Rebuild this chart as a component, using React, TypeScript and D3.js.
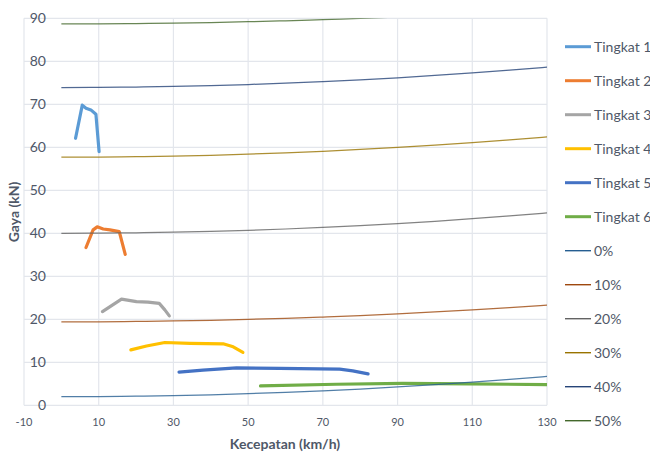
import React from 'react';
import * as d3 from 'd3';

// Speed samples (km/h) for the grade resistance curves
const speedSteps = [0, 10, 20, 30, 40, 50, 60, 70, 80, 90, 100, 110, 120, 130];

// Total resistance (kN) per road grade
const grade0 = [2.0, 2.03, 2.11, 2.25, 2.45, 2.7, 3.0, 3.37, 3.79, 4.27, 4.8, 5.39, 6.03, 6.73];
const grade10 = [19.4, 19.42, 19.49, 19.61, 19.77, 19.98, 20.23, 20.53, 20.87, 21.26, 21.7, 22.18, 22.71, 23.29];
const grade20 = [40.0, 40.03, 40.11, 40.25, 40.45, 40.7, 41.0, 41.37, 41.79, 42.27, 42.8, 43.39, 44.03, 44.73];
const grade30 = [57.7, 57.73, 57.81, 57.95, 58.15, 58.4, 58.7, 59.07, 59.49, 59.97, 60.5, 61.09, 61.73, 62.43];
const grade40 = [73.9, 73.93, 74.01, 74.15, 74.35, 74.6, 74.9, 75.27, 75.69, 76.17, 76.7, 77.29, 77.93, 78.63];
const grade50 = [88.7, 88.72, 88.78, 88.88, 89.02, 89.2, 89.43, 89.7, 89.98, 90.3, 90.65, 91.05, 91.48, 91.95];

const gradeLabels = ['0%', '10%', '20%', '30%', '40%', '50%'];
const gradeSeries = [grade0, grade10, grade20, grade30, grade40, grade50];
const gradeColors = ['#255E91', '#9E480E', '#636363', '#997300', '#264478', '#43682B'];

// Tractive force per gear: [speed km/h, force kN]
const gear1: [number, number][] = [[3.8, 62.1], [5.6, 69.8], [6.6, 69.1], [7.9, 68.7], [9.25, 67.7], [10.1, 59.0]];
const gear2: [number, number][] = [[6.6, 36.7], [8.5, 40.8], [9.6, 41.5], [11.2, 41.0], [13.0, 40.8], [15.5, 40.4], [17.1, 35.1]];
const gear3: [number, number][] = [[11.0, 21.8], [16.1, 24.7], [20.1, 24.1], [23.2, 24.0], [26.2, 23.7], [27.7, 22.2], [28.9, 20.8]];
const gear4: [number, number][] = [[18.6, 12.9], [22.8, 13.8], [27.7, 14.6], [34.4, 14.4], [43.3, 14.3], [46.0, 13.6], [48.6, 12.3]];
const gear5: [number, number][] = [[31.5, 7.7], [37.9, 8.2], [46.9, 8.7], [58.4, 8.6], [74.5, 8.4], [78.0, 8.0], [82.1, 7.3]];
const gear6: [number, number][] = [[53.3, 4.5], [73.6, 4.9], [91.4, 5.1], [109.3, 5.0], [130.0, 4.8]];

const gearLabels = ['Tingkat 1', 'Tingkat 2', 'Tingkat 3', 'Tingkat 4', 'Tingkat 5', 'Tingkat 6'];
const gearSeries = [gear1, gear2, gear3, gear4, gear5, gear6];
const gearColors = ['#5B9BD5', '#ED7D31', '#A5A5A5', '#FFC000', '#4472C4', '#70AD47'];

const xTicks = [-10, 10, 30, 50, 70, 90, 110, 130];
const yTicks = [0, 10, 20, 30, 40, 50, 60, 70, 80, 90];

const W = 650;
const H = 453;
const FONT = 'Lato, "Noto Sans", sans-serif';
const TEXT = '#4f5868';

export default function App() {
  const x = d3.scaleLinear().domain([-10, 130]).range([24, 547]);
  const y = d3.scaleLinear().domain([0, 90]).range([405.3, 18.3]);

  const gearLine = d3
    .line<[number, number]>()
    .x((d) => x(d[0]))
    .y((d) => y(d[1]));

  const gradeLine = d3
    .line<number>()
    .x((_, i) => x(speedSteps[i]))
    .y((d) => y(d))
    .curve(d3.curveMonotoneX);

  const [x0, x1] = x.range();
  const [y0, y1] = y.range();

  const legendItems = [
    ...gearLabels.map((l, i) => ({ label: l, color: gearColors[i], w: 3 })),
    ...gradeLabels.map((l, i) => ({ label: l, color: gradeColors[i], w: 1.4 })),
  ];

  return (
    <svg
      width={W}
      height={H}
      style={{ position: 'absolute', left: 0, top: 0, background: '#fff' }}
      fontFamily={FONT}
    >
      <defs>
        <clipPath id="plotClip">
          <rect x={x0} y={y1} width={x1 - x0} height={y0 - y1} />
        </clipPath>
      </defs>
      <rect x={0} y={0} width={W} height={H} fill="#fff" />

      {/* grid */}
      {yTicks.map((t) => (
        <line key={'gy' + t} x1={x0} x2={x1} y1={y(t)} y2={y(t)} stroke="#e3e6ec" strokeWidth={1.2} />
      ))}
      {xTicks.map((t) => (
        <line key={'gx' + t} x1={x(t)} x2={x(t)} y1={y1} y2={y0} stroke="#e3e6ec" strokeWidth={1.2} />
      ))}

      {/* y tick labels */}
      {yTicks.map((t) => (
        <text key={'ty' + t} x={46} y={y(t)} dy="0.35em" textAnchor="end" fontSize={14} fill={TEXT}>
          {t}
        </text>
      ))}
      {/* x tick labels */}
      {xTicks.map((t) => (
        <text key={'tx' + t} x={x(t)} y={426} textAnchor="middle" fontSize={11} fill={TEXT}>
          {t}
        </text>
      ))}

      <g clipPath="url(#plotClip)">
        {gearSeries.map((s, i) => (
          <path
            key={'g' + i}
            d={gearLine(s) || ''}
            fill="none"
            stroke={gearColors[i]}
            strokeWidth={3.2}
            strokeLinejoin="round"
            strokeLinecap="round"
          />
        ))}
        {gradeSeries.map((s, i) => (
          <path
            key={'r' + i}
            d={gradeLine(s) || ''}
            fill="none"
            stroke={gradeColors[i]}
            strokeWidth={1.25}
            strokeOpacity={0.8}
          />
        ))}
      </g>

      {/* axis titles */}
      <text x={285} y={449} textAnchor="middle" fontSize={14} fontWeight="bold" fill={TEXT}>
        Kecepatan (km/h)
      </text>
      <text
        transform="translate(19,212) rotate(-90)"
        textAnchor="middle"
        fontSize={14}
        fontWeight="bold"
        fill={TEXT}
      >
        Gaya (kN)
      </text>

      {/* legend */}
      {legendItems.map((it, i) => {
        const ly = 46.7 + i * 34;
        return (
          <g key={'lg' + i}>
            <line x1={565} x2={591} y1={ly} y2={ly} stroke={it.color} strokeWidth={it.w} />
            <text x={594} y={ly} dy="0.35em" fontSize={14} fill={TEXT}>
              {it.label}
            </text>
          </g>
        );
      })}
    </svg>
  );
}
